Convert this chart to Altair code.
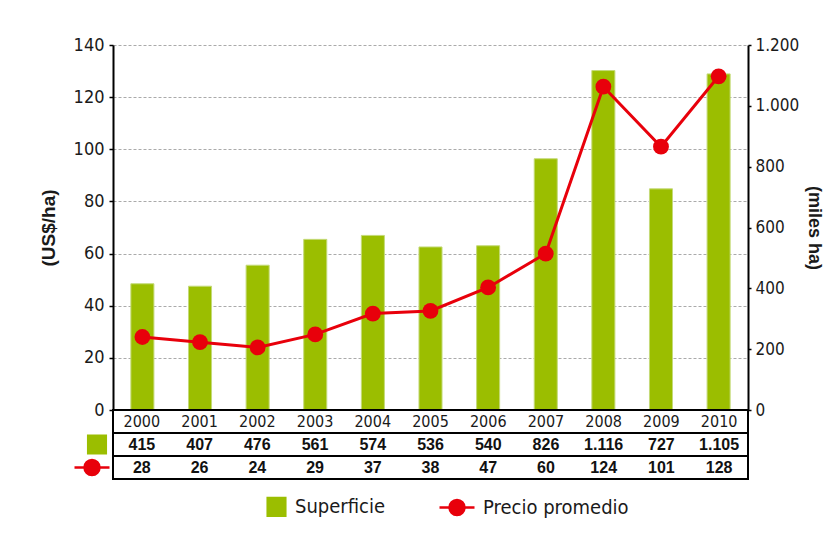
import altair as alt
import pandas as pd

years = [2000, 2001, 2002, 2003, 2004, 2005, 2006, 2007, 2008, 2009, 2010]
superficie = [415, 407, 476, 561, 574, 536, 540, 826, 1116, 727, 1105]   # miles ha
precio = [28, 26, 24, 29, 37, 38, 47, 60, 124, 101, 128]                 # US$/ha
series = ["Superficie", "Precio promedio"]
left_ticks = [0, 20, 40, 60, 80, 100, 120, 140]
right_ticks = [0, 200, 400, 600, 800, 1000, 1200]

GREEN = "#9BBE00"
RED = "#E8000B"
NARROW = "DejaVu Sans Condensed, Roboto, sans-serif"
SANS = "Liberation Sans, Arial, sans-serif"
SQUARE_PATH = "M-0.88,-0.88 H0.88 V0.88 H-0.88 Z"
LINE_PATH_LEG = "M-2.5,0 H1 M-1.5,0 A0.75,0.75 0 1,1 0,0 A0.75,0.75 0 1,1 -1.5,0 Z"
LINE_PATH_TAB = "M-1.75,0 H1.75 M-0.75,0 A0.75,0.75 0 1,1 0.75,0 A0.75,0.75 0 1,1 -0.75,0 Z"


def miles(v):
    return f"{v:,}".replace(",", ".")


df = pd.DataFrame({"year": [str(y) for y in years], "superficie": superficie, "precio": precio})

rows = ["year", "sup", "precio"]
table_records = []
for y, s, p in zip(years, superficie, precio):
    table_records.append({"year": str(y), "row": "year", "label": str(y)})
    table_records.append({"year": str(y), "row": "sup", "label": miles(s)})
    table_records.append({"year": str(y), "row": "precio", "label": str(p)})
table_df = pd.DataFrame(table_records)

x_scale = alt.Scale(domain=[str(y) for y in years], paddingInner=0.6, paddingOuter=0.31)

W, H = 635, 365

x_main = alt.X("year:N", scale=x_scale, axis=None)

bars = alt.Chart(df).mark_bar(color=GREEN, stroke="#C4DA78", strokeWidth=1).encode(
    x=x_main,
    y=alt.Y("superficie:Q", scale=alt.Scale(domain=[0, 1200]),
            axis=alt.Axis(orient="right", title="(miles ha)", values=right_ticks,
                          labelExpr="replace(format(datum.value, ','), ',', '.')",
                          grid=False, domainColor="black", domainWidth=2,
                          tickColor="black", tickWidth=1.5, tickSize=3, labelPadding=4,
                          labelFont=NARROW, labelFontSize=17, labelColor="#1a1a1a",
                          titleFont=SANS, titleFontSize=18, titleFontWeight="bold",
                          titleColor="#1a1a1a", titlePadding=6)),
)

line = alt.Chart(df).mark_line(color=RED, strokeWidth=3,
                               point=alt.OverlayMarkDef(filled=True, size=250, color=RED, opacity=1)).encode(
    x=x_main,
    y=alt.Y("precio:Q", scale=alt.Scale(domain=[0, 140]),
            axis=alt.Axis(orient="left", title="(US$/ha)", values=left_ticks,
                          grid=True, gridColor="#AAAAAA", gridDash=[3, 2], gridWidth=1,
                          domainColor="black", domainWidth=2,
                          tickColor="black", tickWidth=1.5, tickSize=4, labelPadding=5,
                          labelFont=NARROW, labelFontSize=18, labelColor="#1a1a1a",
                          titleFont=SANS, titleFontSize=19, titleFontWeight="bold",
                          titleColor="#1a1a1a", titlePadding=15)),
)

legend_def = alt.Legend(
    title=None, orient="none", legendX=152, legendY=450, direction="horizontal",
    symbolOpacity=1, symbolSize=400, symbolStrokeWidth=2.5,
    labelFont=NARROW, labelFontSize=20, labelColor="#1a1a1a", labelLimit=400,
    labelOffset=7, columnPadding=48,
)

legend_df = pd.DataFrame({"serie": series})
legend_layer = alt.Chart(legend_df).mark_point(opacity=0).encode(
    fill=alt.Fill("serie:N", scale=alt.Scale(domain=series, range=[GREEN, RED]), legend=legend_def),
    stroke=alt.Stroke("serie:N", scale=alt.Scale(domain=series, range=[GREEN, RED]), legend=legend_def),
    shape=alt.Shape("serie:N", scale=alt.Scale(domain=series, range=[SQUARE_PATH, LINE_PATH_LEG]),
                    legend=legend_def),
)

main = alt.layer(bars, line, legend_layer).resolve_scale(y="independent").properties(
    width=W, height=H, view=alt.ViewBackground(stroke="transparent"))

x_tab = alt.X("year:N", scale=x_scale, axis=None)
row_scale = alt.Scale(domain=rows, paddingInner=0, paddingOuter=0)
y_tab = alt.Y("row:N", scale=row_scale, axis=None, bandPosition=0.5)
y_rule = alt.Y("row:N", scale=row_scale, axis=None, bandPosition=0)

year_text = alt.Chart(table_df).transform_filter(alt.datum.row == "year").mark_text(
    font=NARROW, fontSize=16, color="#1a1a1a", baseline="middle").encode(x=x_tab, y=y_tab, text="label:N")
val_text = alt.Chart(table_df).transform_filter(alt.datum.row != "year").mark_text(
    font=SANS, fontSize=16, fontWeight="bold", color="#111", baseline="middle").encode(
    x=x_tab, y=y_tab, text="label:N")

rules = alt.Chart(pd.DataFrame({"row": ["sup", "precio"]})).mark_rule(color="black", strokeWidth=2).encode(
    y=y_rule)

sym_sup = alt.Chart(pd.DataFrame({"row": ["sup"]})).mark_point(
    shape=SQUARE_PATH, filled=True, fill=GREEN, stroke=GREEN, strokeWidth=2.5, size=400, opacity=1).encode(
    x=alt.value(-16), y=y_tab)
sym_pre = alt.Chart(pd.DataFrame({"row": ["precio"]})).mark_point(
    shape=LINE_PATH_TAB, filled=True, fill=RED, stroke=RED, strokeWidth=2.5, size=400, opacity=1).encode(
    x=alt.value(-21), y=y_tab)

table = alt.layer(rules, year_text, val_text, sym_sup, sym_pre).properties(
    width=W, height=69, view=alt.ViewBackground(stroke="black", strokeWidth=2))

chart = alt.vconcat(main, table, spacing=0, bounds="flush").properties(
    padding={"left": 30, "top": 27, "right": 0, "bottom": 5},
    background="white",
).configure_view(stroke=None)

chart.save("out.html", embed_options={"renderer": "svg", "actions": False})
